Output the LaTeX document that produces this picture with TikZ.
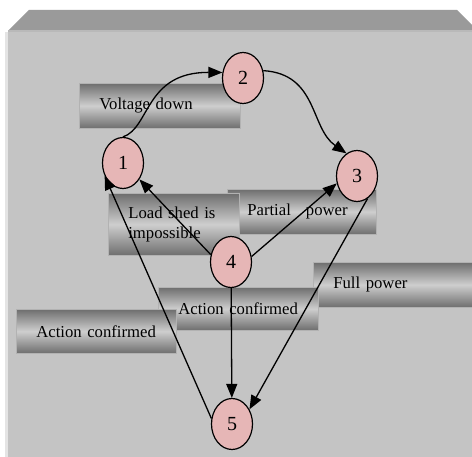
\documentclass[tikz,border=0pt]{standalone}
\usepackage{fontspec}
\setmainfont{Liberation Serif}
\usetikzlibrary{shapes.geometric,arrows.meta}

\definecolor{frontgray}{RGB}{196,196,196}
\definecolor{topgray}{RGB}{154,154,154}
\definecolor{edgegray}{RGB}{228,228,228}
\definecolor{boxdark}{RGB}{110,110,110}
\definecolor{boxlight}{RGB}{206,206,206}
\definecolor{boxedge}{RGB}{178,178,178}
\definecolor{statepink}{RGB}{230,182,182}

\tikzset{
  state/.style={ellipse, draw, line width=1.2pt, fill=statepink,
    minimum width=41pt, minimum height=51pt, inner sep=0pt,
    font=\fontsize{20}{24}\selectfont},
  labelbox/.style={anchor=north west, draw=boxedge, line width=0.6pt,
    top color=boxdark, bottom color=boxdark, middle color=boxlight,
    inner xsep=20pt, inner ysep=0pt, align=left,
    font=\fontsize{16.7}{20}\selectfont},
  link/.style={line width=1.3pt, -{Triangle[length=14pt,width=11pt]}}
}

\begin{document}
\begin{tikzpicture}[x=1pt, y=-1pt]
      \useasboundingbox (0,0) rectangle (472,457);

      \fill[frontgray] (8,31) rectangle (472,457);
      \fill[edgegray] (5,32) rectangle (8,457);
      \fill[topgray] (8,31) -- (29,10) -- (457,10) -- (472,25) -- (472,31) -- cycle;
      \fill[boxlight!90!black] (8,30) rectangle (472,32);

      \node[labelbox, text width=109pt, minimum height=45pt] (partial) at (227,189) {Partial\hspace{15pt}power};
      \node[labelbox, text width=91pt, minimum height=62pt] (loadshed) at (108,193) {Load shed is\\impossible};
      \node[labelbox, text width=121pt, minimum height=45pt] (voltage) at (79,83) {Voltage down};
      \node[labelbox, text width=120pt, minimum height=45pt] (full) at (313,262) {Full power};
      \node[labelbox, text width=120pt, minimum height=43pt] (actmid) at (158,287) {Action confirmed};
      \node[labelbox, text width=120pt, minimum height=44pt] (actleft) at (16,309) {Action confirmed};

      \node[state] (s1) at (123,163) {1};
      \node[state] (s2) at (243,78) {2};
      \node[state] (s3) at (357,176) {3};
      \node[state] (s4) at (231,262) {4};
      \node[state] (s5) at (232,424) {5};

      \draw[link] (s1.north) .. controls (150,128) and (145,72) .. (s2.165);
      \draw[link] (s2.20) .. controls (318,74) and (310,128) .. (s3.115);
      \draw[link] (s4.160) -- (s1.-45);
      \draw[link] (s4.15) -- (s3.200);
      \draw[link] (s4) -- (s5);
      \draw[link] (s5.165) -- (s1.215);
      \draw[link] (s3.-65) -- (s5.40);
    \end{tikzpicture}
\end{document}
